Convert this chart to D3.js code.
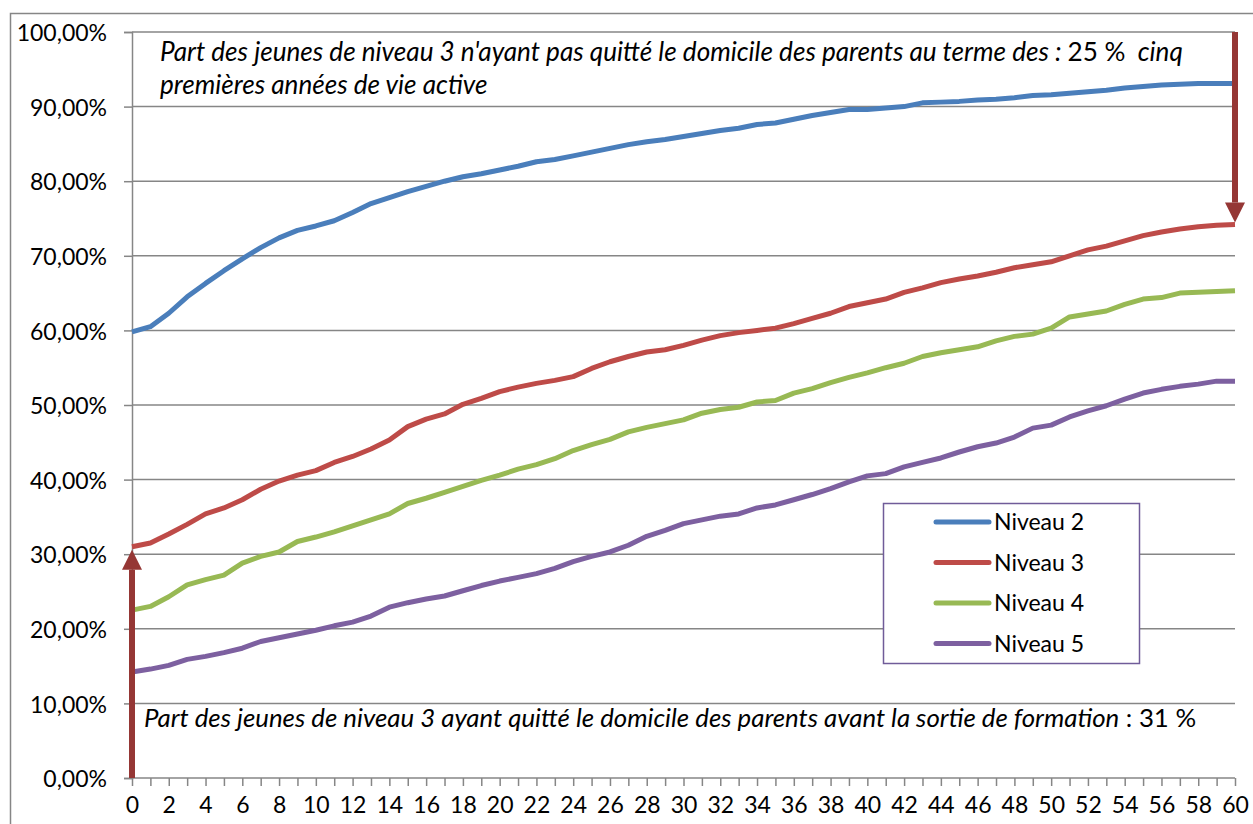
<!DOCTYPE html>
<html>
<head>
<meta charset="utf-8">
<script src="https://cdn.jsdelivr.net/npm/d3@7"></script>
<style>
  body { margin: 0; background: #fff; }
  svg { display: block; font-family: Lato, "Open Sans", sans-serif; }
  .axis path, .axis line { stroke: #868686; stroke-width: 1.5; }
  .axis text { fill: #000; font-size: 23px; font-family: Lato, sans-serif; }
  .grid line { stroke: #868686; stroke-width: 1.5; }
  .note { font-size: 20px; fill: #000; }
</style>
</head>
<body>
<div id="chart"></div>
<script>
// years after leaving school (0..60 months)
var months = d3.range(0, 61);

var niveau2 = [59.8, 60.5, 62.3, 64.5, 66.3, 68.0, 69.6, 71.1, 72.4, 73.4, 74.0, 74.7, 75.8, 77.0, 77.8, 78.6, 79.3, 80.0, 80.6, 81.0,
	81.5, 82.0, 82.6, 82.9, 83.4, 83.9, 84.4, 84.9, 85.3, 85.6, 86.0, 86.4, 86.8, 87.1, 87.6, 87.8, 88.3, 88.8, 89.2, 89.6,
	89.6, 89.8, 90.0, 90.5, 90.6, 90.7, 90.9, 91.0, 91.2, 91.5, 91.6, 91.8, 92.0, 92.2, 92.5, 92.7, 92.9, 93.0, 93.1, 93.1, 93.1];
var niveau3 = [31.0, 31.5, 32.7, 34.0, 35.4, 36.2, 37.3, 38.7, 39.8, 40.6, 41.2, 42.3, 43.1, 44.1, 45.3, 47.1, 48.1, 48.8, 50.1, 50.9,
	51.8, 52.4, 52.9, 53.3, 53.8, 54.9, 55.8, 56.5, 57.1, 57.4, 58.0, 58.7, 59.3, 59.7, 60.0, 60.3, 60.9, 61.6, 62.3, 63.2,
	63.7, 64.2, 65.1, 65.7, 66.4, 66.9, 67.3, 67.8, 68.4, 68.8, 69.2, 70.0, 70.8, 71.3, 72.0, 72.7, 73.2, 73.6, 73.9, 74.1, 74.2];
var niveau4 = [22.5, 23.0, 24.3, 25.9, 26.6, 27.2, 28.8, 29.7, 30.3, 31.7, 32.3, 33.0, 33.8, 34.6, 35.4, 36.8, 37.5, 38.3, 39.1, 39.9,
	40.6, 41.4, 42.0, 42.8, 43.9, 44.7, 45.4, 46.4, 47.0, 47.5, 48.0, 48.9, 49.4, 49.7, 50.4, 50.6, 51.6, 52.2, 53.0, 53.7,
	54.3, 55.0, 55.6, 56.5, 57.0, 57.4, 57.8, 58.6, 59.2, 59.5, 60.3, 61.8, 62.2, 62.6, 63.5, 64.2, 64.4, 65.0, 65.1, 65.2, 65.3];
var niveau5 = [14.2, 14.6, 15.1, 15.9, 16.3, 16.8, 17.4, 18.3, 18.8, 19.3, 19.8, 20.4, 20.9, 21.7, 22.9, 23.5, 24.0, 24.4, 25.1, 25.8,
	26.4, 26.9, 27.4, 28.1, 29.0, 29.7, 30.3, 31.2, 32.4, 33.2, 34.1, 34.6, 35.1, 35.4, 36.2, 36.6, 37.3, 38.0, 38.8, 39.7,
	40.5, 40.8, 41.7, 42.3, 42.9, 43.7, 44.4, 44.9, 45.7, 46.9, 47.3, 48.4, 49.2, 49.9, 50.8, 51.6, 52.1, 52.5, 52.8, 53.2, 53.2];

var seriesNames = ["Niveau 2", "Niveau 3", "Niveau 4", "Niveau 5"];
var seriesColors = ["#4a7ebb", "#be4b48", "#98b954", "#7d60a0"];
var yTicks = [0, 10, 20, 30, 40, 50, 60, 70, 80, 90, 100];
var yTickLabels = ["0,00%", "10,00%", "20,00%", "30,00%", "40,00%", "50,00%", "60,00%", "70,00%", "80,00%", "90,00%", "100,00%"];

var noteTop1 = "Part des jeunes de niveau 3 n'ayant pas quitté le domicile des parents au terme des : ";
var noteTopPct = "25 %";
var noteTop2 = "  cinq";
var noteTop3 = "premières années de vie active";
var noteBottom = "Part des jeunes de niveau 3 ayant quitté le domicile des parents avant la sortie de formation";
var noteBottomPct = " : 31 %";

var W = 1253, H = 824;
var margin = {top: 32, right: 18, bottom: 46, left: 132};

var svg = d3.select("#chart").append("svg")
	.attr("width", W)
	.attr("height", H);

// outer chart-area border (runs off the right and bottom edges)
svg.append("rect")
	.attr("x", 10.5).attr("y", 13.5)
	.attr("width", W + 20).attr("height", H + 20)
	.attr("fill", "none")
	.attr("stroke", "#868686")
	.attr("stroke-width", 1.5);

var x = d3.scaleLinear().domain([0, 60]).range([margin.left, W - margin.right]);
var y = d3.scaleLinear().domain([0, 100]).range([H - margin.bottom, margin.top]);

// horizontal gridlines
svg.append("g").attr("class", "grid")
	.selectAll("line")
	.data(yTicks.slice(1))
	.enter().append("line")
	.attr("x1", x(0)).attr("x2", x(60))
	.attr("y1", function(d) { return y(d); })
	.attr("y2", function(d) { return y(d); });

var yAxis = svg.append("g")
	.attr("class", "axis")
	.attr("transform", "translate(" + x(0) + ",0)")
	.call(d3.axisLeft(y).tickValues(yTicks).tickSize(8).tickPadding(17)
		.tickFormat(function(d, i) { return yTickLabels[i]; }));
yAxis.selectAll("text").attr("dy", "0.38em");

var xAxis = svg.append("g")
	.attr("class", "axis")
	.attr("transform", "translate(0," + y(0) + ")")
	.call(d3.axisBottom(x).tickValues(months).tickSize(8).tickPadding(11)
		.tickFormat(function(d) { return d % 2 == 0 ? d : ""; }));
xAxis.select(".domain").attr("d", "M" + x(0) + ",0H" + x(60));

var line = d3.line()
	.x(function(d, i) { return x(months[i]); })
	.y(function(d) { return y(d); });

[niveau2, niveau3, niveau4, niveau5].forEach(function(s, k) {
	svg.append("path")
		.datum(s)
		.attr("fill", "none")
		.attr("stroke", seriesColors[k])
		.attr("stroke-width", 5)
		.attr("stroke-linejoin", "round")
		.attr("d", line);
});

// arrows
var arrowColor = "#953735";
function arrow(xp, y0, y1) {
	var dir = y1 > y0 ? 1 : -1;
	var headLen = 20, headW = 10;
	svg.append("line")
		.attr("x1", xp).attr("x2", xp)
		.attr("y1", y0).attr("y2", y1 - dir * headLen)
		.attr("stroke", arrowColor)
		.attr("stroke-width", 6);
	svg.append("path")
		.attr("d", "M" + (xp - headW) + "," + (y1 - dir * headLen) + "L" + (xp + headW) + "," + (y1 - dir * headLen) + "L" + xp + "," + y1 + "Z")
		.attr("fill", arrowColor);
}
arrow(x(0), y(0), y(niveau3[0]) + 3);
arrow(x(60), y(100), y(niveau3[60]) - 2);

// annotations
var t1 = svg.append("text").attr("class", "note").attr("x", 160).attr("y", 61);
t1.append("tspan").attr("font-style", "italic").text(noteTop1);
t1.append("tspan").text(noteTopPct);
t1.append("tspan").attr("font-style", "italic").attr("xml:space", "preserve").text(noteTop2);
var t2 = svg.append("text").attr("class", "note").attr("x", 160).attr("y", 94)
	.attr("font-style", "italic").text(noteTop3);
var t3 = svg.append("text").attr("class", "note").attr("x", 144).attr("y", 727);
t3.append("tspan").attr("font-style", "italic").text(noteBottom);
t3.append("tspan").text(noteBottomPct);

// fit the notes to the width they take in the source
function fit(sel, target) {
	var w = sel.node().getComputedTextLength();
	var fs = 20 * target / w;
	sel.style("font-size", fs + "px");
	return fs;
}
var fsTop = fit(t1, 1023);
t2.style("font-size", fsTop + "px");
fit(t3, 1053);

// legend
var lg = svg.append("g");
lg.append("rect")
	.attr("x", 883.5).attr("y", 503.5)
	.attr("width", 256).attr("height", 160)
	.attr("fill", "#fff")
	.attr("stroke", "#705c99")
	.attr("stroke-width", 1.5);
seriesNames.forEach(function(n, i) {
	var ly = 522 + i * 40.5;
	lg.append("line")
		.attr("x1", 936).attr("x2", 989)
		.attr("y1", ly).attr("y2", ly)
		.attr("stroke", seriesColors[i])
		.attr("stroke-width", 5)
		.attr("stroke-linecap", "round");
	lg.append("text")
		.attr("x", 994).attr("y", ly)
		.attr("dy", "0.36em")
		.style("font-size", "23px")
		.text(n);
});
</script>
</body>
</html>
